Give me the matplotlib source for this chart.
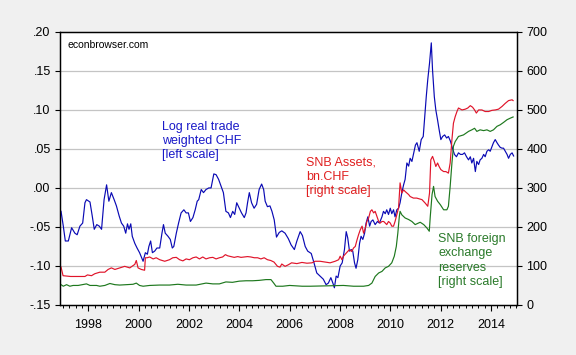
import matplotlib
matplotlib.use("Agg")
from matplotlib import pyplot as plt
from matplotlib.ticker import FixedLocator, FuncFormatter, MultipleLocator
import numpy as np

plt.rcParams["font.family"] = ["Liberation Sans", "DejaVu Sans"]

# log real trade weighted CHF (left scale)
chf_t = [1996.92, 1997.01, 1997.09, 1997.21, 1997.34, 1997.47, 1997.56, 1997.67, 1997.78, 1997.87,
         1997.93, 1998.07, 1998.16, 1998.24, 1998.34, 1998.44, 1998.53, 1998.63, 1998.73, 1998.82,
         1998.92, 1999.03, 1999.12, 1999.23, 1999.32, 1999.41, 1999.49, 1999.56, 1999.62, 1999.69,
         1999.75, 1999.85, 1999.94, 2000.04, 2000.18, 2000.27, 2000.35, 2000.41, 2000.48, 2000.55,
         2000.64, 2000.73, 2000.84, 2000.93, 2000.99, 2001.06, 2001.17, 2001.26, 2001.34, 2001.40,
         2001.50, 2001.59, 2001.69, 2001.80, 2001.89, 2001.98, 2002.06, 2002.16, 2002.25, 2002.33,
         2002.39, 2002.49, 2002.58, 2002.68, 2002.79, 2002.88, 2002.99, 2003.08, 2003.18, 2003.28,
         2003.37, 2003.47, 2003.57, 2003.65, 2003.74, 2003.82, 2003.90, 2004.00, 2004.09, 2004.20,
         2004.27, 2004.33, 2004.40, 2004.49, 2004.59, 2004.69, 2004.79, 2004.89, 2004.97, 2005.03,
         2005.12, 2005.22, 2005.30, 2005.39, 2005.48, 2005.59, 2005.69, 2005.82, 2005.95, 2006.06,
         2006.19, 2006.29, 2006.42, 2006.51, 2006.62, 2006.72, 2006.86, 2006.97, 2007.08, 2007.21,
         2007.34, 2007.45, 2007.54, 2007.64, 2007.72, 2007.78, 2007.85, 2007.92, 2008.01, 2008.09,
         2008.18, 2008.25, 2008.31, 2008.38, 2008.45, 2008.51, 2008.58, 2008.64, 2008.71, 2008.78,
         2008.84, 2008.91, 2008.98, 2009.04, 2009.11, 2009.18, 2009.24, 2009.31, 2009.40, 2009.49,
         2009.57, 2009.67, 2009.73, 2009.80, 2009.86, 2009.93, 2010.00, 2010.06, 2010.13, 2010.19,
         2010.26, 2010.33, 2010.39, 2010.46, 2010.53, 2010.59, 2010.66, 2010.73, 2010.79, 2010.86,
         2010.92, 2011.00, 2011.06, 2011.15, 2011.23, 2011.31, 2011.36, 2011.43, 2011.49, 2011.56,
         2011.63, 2011.68, 2011.75, 2011.81, 2011.88, 2011.94, 2012.01, 2012.08, 2012.16, 2012.24,
         2012.31, 2012.39, 2012.47, 2012.55, 2012.63, 2012.71, 2012.79, 2012.87, 2012.95, 2013.03,
         2013.11, 2013.18, 2013.24, 2013.31, 2013.38, 2013.44, 2013.51, 2013.57, 2013.64, 2013.71,
         2013.77, 2013.84, 2013.91, 2013.97, 2014.04, 2014.10, 2014.17, 2014.24, 2014.30, 2014.37,
         2014.44, 2014.50, 2014.57, 2014.64, 2014.70, 2014.77, 2014.84, 2014.90]
chf = [-0.030, -0.049, -0.068, -0.068, -0.051, -0.058, -0.060, -0.049, -0.045, -0.019,
       -0.015, -0.018, -0.036, -0.053, -0.047, -0.049, -0.053, -0.015, 0.004, -0.017,
       -0.006, -0.015, -0.023, -0.036, -0.045, -0.049, -0.058, -0.046, -0.053, -0.046,
       -0.062, -0.071, -0.077, -0.083, -0.094, -0.083, -0.085, -0.075, -0.068, -0.083,
       -0.081, -0.077, -0.077, -0.058, -0.047, -0.058, -0.062, -0.066, -0.077, -0.075,
       -0.058, -0.045, -0.032, -0.028, -0.032, -0.032, -0.043, -0.038, -0.028, -0.017,
       -0.015, -0.002, -0.006, -0.002, 0.000, 0.000, 0.018, 0.017, 0.011, 0.002,
       -0.006, -0.030, -0.032, -0.038, -0.030, -0.034, -0.019, -0.026, -0.032, -0.038,
       -0.032, -0.019, -0.006, -0.019, -0.026, -0.021, -0.002, 0.005, -0.002, -0.017,
       -0.024, -0.023, -0.030, -0.041, -0.063, -0.057, -0.055, -0.058, -0.065, -0.073,
       -0.079, -0.068, -0.056, -0.061, -0.075, -0.081, -0.084, -0.096, -0.109, -0.113,
       -0.117, -0.124, -0.122, -0.115, -0.122, -0.128, -0.113, -0.115, -0.100, -0.096,
       -0.079, -0.056, -0.064, -0.081, -0.079, -0.081, -0.096, -0.103, -0.092, -0.071,
       -0.062, -0.066, -0.058, -0.045, -0.037, -0.049, -0.043, -0.041, -0.047, -0.043,
       -0.045, -0.037, -0.030, -0.033, -0.028, -0.034, -0.026, -0.033, -0.028, -0.037,
       -0.028, -0.026, -0.019, -0.006, 0.004, 0.011, 0.032, 0.028, 0.038, 0.034,
       0.043, 0.055, 0.058, 0.047, 0.062, 0.066, 0.087, 0.117, 0.139, 0.160,
       0.186, 0.151, 0.117, 0.100, 0.087, 0.075, 0.062, 0.066, 0.068, 0.064,
       0.066, 0.060, 0.051, 0.043, 0.040, 0.045, 0.043, 0.043, 0.045, 0.040,
       0.036, 0.040, 0.032, 0.038, 0.021, 0.034, 0.030, 0.036, 0.038, 0.043,
       0.040, 0.047, 0.049, 0.047, 0.053, 0.058, 0.062, 0.058, 0.055, 0.052,
       0.051, 0.051, 0.047, 0.043, 0.038, 0.043, 0.045, 0.041]

# SNB assets, bn CHF (right scale)
assets_t = [1996.92, 1997.00, 1997.30, 1997.60, 1997.87, 1997.97, 1998.13, 1998.26, 1998.46, 1998.66,
            1998.79, 1998.92, 1999.06, 1999.25, 1999.45, 1999.65, 1999.85, 1999.91, 1999.98, 2000.11,
            2000.24, 2000.27, 2000.34, 2000.44, 2000.58, 2000.70, 2000.84, 2001.04, 2001.23, 2001.36,
            2001.50, 2001.63, 2001.76, 2001.89, 2002.02, 2002.16, 2002.29, 2002.42, 2002.55, 2002.68,
            2002.82, 2002.95, 2003.08, 2003.21, 2003.34, 2003.45, 2003.54, 2003.67, 2003.80, 2003.94,
            2004.07, 2004.20, 2004.33, 2004.46, 2004.60, 2004.73, 2004.86, 2004.99, 2005.12, 2005.25,
            2005.38, 2005.52, 2005.62, 2005.69, 2005.82, 2005.95, 2006.08, 2006.29, 2006.49, 2006.69,
            2006.89, 2007.01, 2007.21, 2007.61, 2007.81, 2007.95, 2008.01, 2008.08, 2008.14, 2008.25,
            2008.38, 2008.47, 2008.54, 2008.61, 2008.68, 2008.74, 2008.81, 2008.88, 2008.94, 2009.01,
            2009.07, 2009.14, 2009.21, 2009.27, 2009.34, 2009.40, 2009.47, 2009.54, 2009.60, 2009.67,
            2009.74, 2009.80, 2009.86, 2009.93, 2010.00, 2010.06, 2010.13, 2010.19, 2010.26, 2010.33,
            2010.39, 2010.46, 2010.53, 2010.59, 2010.66, 2010.73, 2010.79, 2010.92, 2011.05, 2011.16,
            2011.26, 2011.39, 2011.49, 2011.56, 2011.61, 2011.68, 2011.75, 2011.81, 2011.88, 2011.94,
            2012.01, 2012.12, 2012.21, 2012.31, 2012.38, 2012.45, 2012.51, 2012.58, 2012.65, 2012.71,
            2012.85, 2012.98, 2013.08, 2013.18, 2013.27, 2013.35, 2013.42, 2013.51, 2013.64, 2013.77,
            2013.91, 2014.04, 2014.17, 2014.30, 2014.44, 2014.57, 2014.70, 2014.84, 2014.88]
assets = [97, 75, 73, 73, 73, 77, 75, 80, 84, 84,
          91, 95, 91, 95, 99, 95, 104, 114, 95, 91,
          89, 121, 121, 123, 118, 121, 116, 112, 116, 121,
          122, 116, 113, 118, 116, 121, 123, 118, 123, 118,
          121, 122, 118, 121, 123, 129, 126, 124, 122, 124,
          122, 123, 124, 123, 121, 121, 118, 121, 116, 114,
          110, 99, 97, 105, 99, 103, 108, 106, 109, 107,
          108, 112, 112, 108, 112, 116, 125, 116, 125, 133,
          142, 137, 146, 150, 167, 180, 193, 202, 184, 197,
          214, 223, 240, 244, 236, 240, 227, 214, 210, 214,
          214, 210, 206, 214, 210, 202, 202, 214, 231, 249,
          313, 287, 295, 291, 287, 283, 278, 274, 274, 272,
          270, 261, 253, 287, 372, 381, 368, 355, 364, 355,
          347, 342, 342, 338, 364, 424, 466, 483, 496, 505,
          500, 502, 505, 511, 507, 500, 492, 500, 500, 496,
          496, 499, 500, 502, 509, 517, 524, 526, 524]

# SNB foreign exchange reserves (right scale)
fx_t = [1996.92, 1997.01, 1997.14, 1997.27, 1997.40, 1997.60, 1997.93, 1998.07, 1998.33, 1998.46,
        1998.66, 1998.86, 1999.06, 1999.25, 1999.52, 1999.78, 1999.91, 2000.04, 2000.18, 2000.44,
        2000.84, 2001.23, 2001.56, 2001.89, 2002.29, 2002.68, 2002.95, 2003.21, 2003.47, 2003.73,
        2004.00, 2004.27, 2004.53, 2004.79, 2005.06, 2005.26, 2005.37, 2005.46, 2005.73, 2006.00,
        2006.50, 2006.82, 2007.50, 2008.14, 2008.54, 2008.94, 2009.14, 2009.27, 2009.40, 2009.54,
        2009.67, 2009.80, 2009.93, 2010.06, 2010.16, 2010.24, 2010.30, 2010.36, 2010.39, 2010.46,
        2010.59, 2010.73, 2010.86, 2010.99, 2011.12, 2011.19, 2011.33, 2011.46, 2011.55, 2011.59,
        2011.66, 2011.72, 2011.78, 2011.88, 2011.99, 2012.12, 2012.25, 2012.31, 2012.38, 2012.45,
        2012.51, 2012.58, 2012.71, 2012.91, 2013.11, 2013.24, 2013.35, 2013.44, 2013.57, 2013.71,
        2013.84, 2013.97, 2014.10, 2014.24, 2014.37, 2014.50, 2014.64, 2014.77, 2014.88]
fx = [52, 48, 52, 48, 50, 50, 54, 50, 50, 48,
      50, 55, 52, 51, 52, 53, 56, 50, 48, 50,
      51, 51, 53, 51, 51, 56, 54, 54, 59, 58,
      61, 62, 62, 63, 65, 65, 56, 48, 48, 50,
      48, 48, 49, 50, 48, 48, 50, 56, 73, 82,
      86, 95, 99, 108, 125, 150, 184, 227, 240, 231,
      223, 219, 214, 206, 210, 212, 206, 197, 189, 227,
      283, 304, 278, 266, 257, 244, 244, 253, 304, 364,
      407, 419, 432, 436, 445, 449, 453, 445, 449, 447,
      449, 445, 449, 458, 462, 468, 475, 479, 482]

left_ticks = [-0.15, -0.10, -0.05, 0.00, 0.05, 0.10, 0.15, 0.20]
right_ticks = [0, 100, 200, 300, 400, 500, 600, 700]
year_ticks = [1998, 2000, 2002, 2004, 2006, 2008, 2010, 2012, 2014]

BLUE = "#0A0AB4"
RED = "#E0142A"
GREEN = "#1E781E"

fig = plt.figure(figsize=(5.76, 3.55), dpi=100, facecolor="#F0F0F0")
ax = fig.add_axes([0.104, 0.141, 0.794, 0.769])
ax.set_facecolor("white")
ax2 = ax.twinx()

# horizontal grid (left scale)
for v in left_ticks[1:-1]:
    ax.axhline(v, color="#C4C4C4", lw=0.9, zorder=0)

ax.plot(chf_t, chf, color=BLUE, lw=0.85, zorder=3)
ax2.plot(assets_t, assets, color=RED, lw=0.85)
ax2.plot(fx_t, fx, color=GREEN, lw=0.85)

ax.set_xlim(1996.875, 2015.045)
ax.set_ylim(-0.15, 0.20)
ax2.set_ylim(0, 700)

def dot_fmt(v, pos):
    s = f"{v:.2f}"
    return s.replace("0.", ".", 1)

ax.yaxis.set_major_locator(FixedLocator(left_ticks))
ax.yaxis.set_major_formatter(FuncFormatter(dot_fmt))
ax2.yaxis.set_major_locator(FixedLocator(right_ticks))
ax.xaxis.set_major_locator(FixedLocator(year_ticks))
ax.xaxis.set_minor_locator(MultipleLocator(0.25))

ax.tick_params(axis="y", direction="out", length=3.6, width=0.8, labelsize=9, pad=3)
ax2.tick_params(axis="y", direction="out", length=3.6, width=0.8, labelsize=9, pad=3)
ax.tick_params(axis="x", which="major", direction="out", length=4.5, width=0.8, labelsize=9, pad=5.5)
ax.tick_params(axis="x", which="minor", direction="out", length=2.5, width=0.7)

for a in (ax, ax2):
    for sp in a.spines.values():
        sp.set_color("black")
        sp.set_linewidth(0.9)

ax.text(1997.19, 0.183, "econbrowser.com", fontsize=7.5, color="black", va="center", ha="left")
ax.text(2000.93, 0.060, "Log real trade\nweighted CHF\n[left scale]", fontsize=9, color="#1A1AC8",
        va="center", ha="left", linespacing=1.25)
ax.text(2006.66, 0.014, "SNB Assets,\nbn.CHF\n[right scale]", fontsize=9, color="#E02020",
        va="center", ha="left", linespacing=1.25)
ax.text(2011.90, -0.093, "SNB foreign\nexchange\nreserves\n[right scale]", fontsize=9, color="#2A7A2A",
        va="center", ha="left", linespacing=1.25)

fig.savefig("out.png", dpi=100, facecolor=fig.get_facecolor())
